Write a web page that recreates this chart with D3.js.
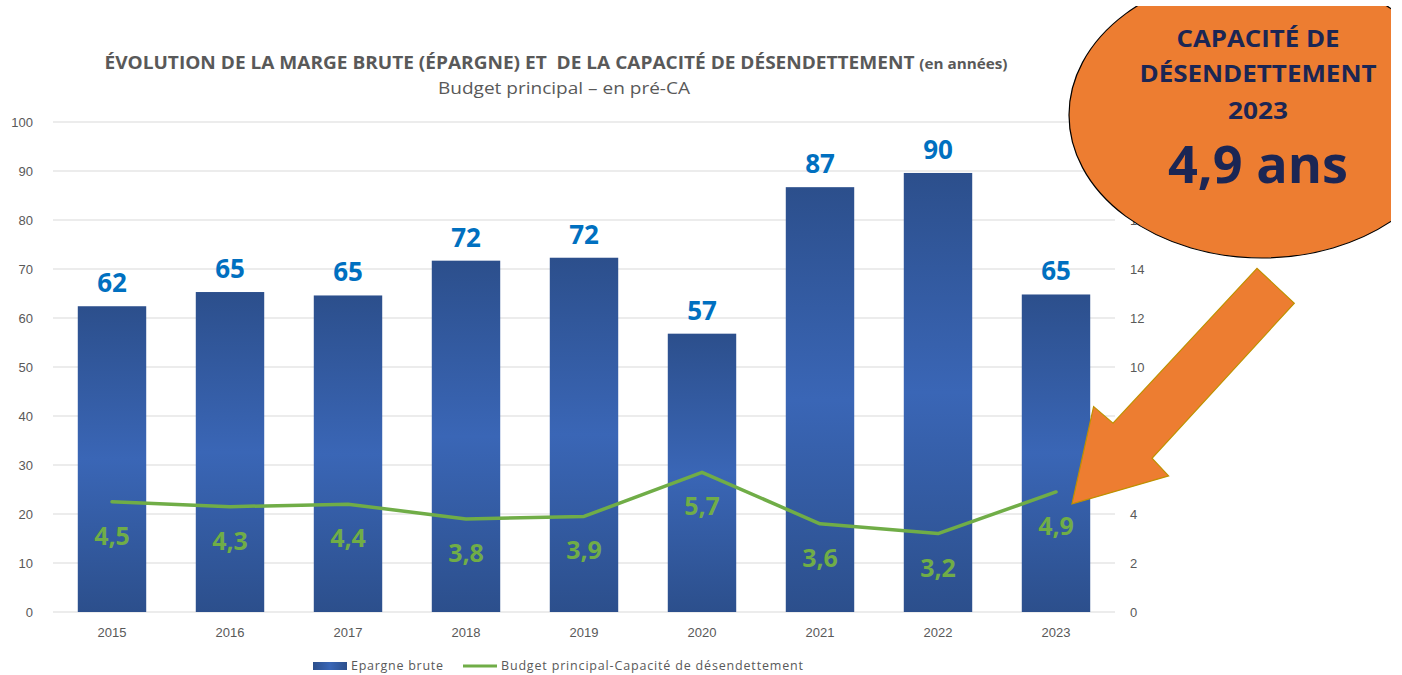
<!DOCTYPE html>
<html>
<head>
<meta charset="utf-8">
<script src="https://cdn.jsdelivr.net/npm/d3@7"></script>
<style>
    html, body { margin: 0; padding: 0; background: #fff; }
    svg { display: block; font-family: "Open Sans", Lato, sans-serif; }
</style>
</head>
<body>
<div id="chart"></div>
<script>
const years = ["2015", "2016", "2017", "2018", "2019", "2020", "2021", "2022", "2023"];
const epargneBrute = [62.4, 65.3, 64.6, 71.7, 72.3, 56.8, 86.7, 89.6, 64.8];
const capacite = [4.5, 4.3, 4.4, 3.8, 3.9, 5.7, 3.6, 3.2, 4.9];
const leftTicks = [0, 10, 20, 30, 40, 50, 60, 70, 80, 90, 100];
const rightTicks = [0, 2, 4, 6, 8, 10, 12, 14, 16, 18, 20];

const width = 1402;
const height = 675;

const fr = d3.formatLocale({ decimal: ",", thousands: " ", grouping: [3], currency: ["", " €"] });
const fmt1 = fr.format(".1f");
const fmt0 = fr.format(".0f");

const svg = d3.select("#chart")
    .append("svg")
    .attr("width", width)
    .attr("height", height);

const defs = svg.append("defs");
const grad = defs.append("linearGradient")
    .attr("id", "barGrad")
    .attr("x1", 0).attr("y1", 0).attr("x2", 0).attr("y2", 1);
grad.append("stop").attr("offset", "0%").attr("stop-color", "#2c4f8c");
grad.append("stop").attr("offset", "50%").attr("stop-color", "#3a66b6");
grad.append("stop").attr("offset", "100%").attr("stop-color", "#2c4f8c");

const legGrad = defs.append("linearGradient")
    .attr("id", "legGrad")
    .attr("x1", 0).attr("y1", 0).attr("x2", 1).attr("y2", 0);
legGrad.append("stop").attr("offset", "0%").attr("stop-color", "#2c4f8c");
legGrad.append("stop").attr("offset", "50%").attr("stop-color", "#3a66b6");
legGrad.append("stop").attr("offset", "100%").attr("stop-color", "#2c4f8c");

defs.append("clipPath").attr("id", "slideClip")
    .append("rect").attr("x", 0).attr("y", 6).attr("width", 1391).attr("height", height);

const x = d3.scaleBand()
    .domain(years)
    .range([53, 1115])
    .paddingInner(0.42)
    .paddingOuter(0.21);

const yL = d3.scaleLinear().domain([0, 100]).range([612, 122]);
const yR = d3.scaleLinear().domain([0, 20]).range([612, 122]);

// gridlines
svg.append("g")
    .selectAll("line")
    .data(leftTicks)
    .join("line")
    .attr("x1", 53)
    .attr("x2", 1115)
    .attr("y1", d => yL(d))
    .attr("y2", d => yL(d))
    .attr("stroke", "#d9d9d9")
    .attr("stroke-width", 1);

// left axis
const leftAxis = svg.append("g")
    .attr("transform", "translate(33,0)")
    .call(d3.axisLeft(yL).tickValues(leftTicks).tickSize(0).tickPadding(0));
leftAxis.select(".domain").remove();
leftAxis.selectAll("text")
    .attr("fill", "#595959")
    .style("font-size", "13px");

// right axis
const rightAxis = svg.append("g")
    .attr("transform", "translate(1130,0)")
    .call(d3.axisRight(yR).tickValues(rightTicks).tickSize(0).tickPadding(0));
rightAxis.select(".domain").remove();
rightAxis.selectAll("text")
    .attr("fill", "#595959")
    .style("font-size", "13px");

// x axis
const xAxis = svg.append("g")
    .attr("transform", "translate(0,625)")
    .call(d3.axisBottom(x).tickSize(0).tickPadding(0));
xAxis.select(".domain").remove();
xAxis.selectAll("text")
    .attr("fill", "#595959")
    .attr("dy", "0.9em")
    .style("font-size", "13px");

// bars
svg.append("g")
    .selectAll("rect")
    .data(years)
    .join("rect")
    .attr("x", d => x(d))
    .attr("width", x.bandwidth())
    .attr("y", (d, i) => yL(epargneBrute[i]))
    .attr("height", (d, i) => yL(0) - yL(epargneBrute[i]))
    .attr("fill", "url(#barGrad)");

// bar labels
svg.append("g")
    .selectAll("text")
    .data(years)
    .join("text")
    .attr("x", d => x(d) + x.bandwidth() / 2)
    .attr("y", (d, i) => yL(epargneBrute[i]) - 14)
    .attr("text-anchor", "middle")
    .attr("fill", "#0070c0")
    .style("font-size", "26px")
    .style("font-weight", "bold")
    .text((d, i) => fmt0(epargneBrute[i]));

// line
const line = d3.line()
    .x((d, i) => x(years[i]) + x.bandwidth() / 2)
    .y(d => yR(d));

svg.append("path")
    .datum(capacite)
    .attr("d", line)
    .attr("fill", "none")
    .attr("stroke", "#70ad47")
    .attr("stroke-width", 3.5)
    .attr("stroke-linejoin", "round")
    .attr("stroke-linecap", "round");

svg.append("g")
    .selectAll("text")
    .data(capacite)
    .join("text")
    .attr("x", (d, i) => x(years[i]) + x.bandwidth() / 2)
    .attr("y", d => yR(d) + 43)
    .attr("text-anchor", "middle")
    .attr("fill", "#70ad47")
    .style("font-size", "25px")
    .style("font-weight", "bold")
    .text(d => fmt1(d));

// title
const title = svg.append("text")
    .attr("x", 556)
    .attr("y", 69)
    .attr("text-anchor", "middle")
    .attr("fill", "#595959")
    .attr("textLength", 903)
    .attr("lengthAdjust", "spacingAndGlyphs")
    .style("font-weight", "bold");
title.append("tspan")
    .style("font-size", "17.5px")
    .text("ÉVOLUTION DE LA MARGE BRUTE (ÉPARGNE) ET\u00a0 DE LA CAPACITÉ DE DÉSENDETTEMENT ");
title.append("tspan")
    .style("font-size", "14px")
    .text("(en années)");

svg.append("text")
    .attr("x", 564)
    .attr("y", 94)
    .attr("text-anchor", "middle")
    .attr("fill", "#595959")
    .attr("textLength", 252)
    .attr("lengthAdjust", "spacingAndGlyphs")
    .style("font-size", "16px")
    .text("Budget principal – en pré-CA");

// legend
const legend = svg.append("g").attr("transform", "translate(313,666)");
legend.append("rect")
    .attr("x", 0).attr("y", -4).attr("width", 34).attr("height", 8)
    .attr("fill", "url(#legGrad)");
legend.append("text")
    .attr("x", 38).attr("y", 0).attr("dy", "0.35em")
    .attr("fill", "#595959")
    .attr("textLength", 92)
    .attr("lengthAdjust", "spacing")
    .style("font-size", "12.5px")
    .text("Epargne brute");
legend.append("line")
    .attr("x1", 150).attr("x2", 184).attr("y1", 0).attr("y2", 0)
    .attr("stroke", "#70ad47").attr("stroke-width", 3);
legend.append("text")
    .attr("x", 188).attr("y", 0).attr("dy", "0.35em")
    .attr("fill", "#595959")
    .attr("textLength", 302)
    .attr("lengthAdjust", "spacing")
    .style("font-size", "12.5px")
    .text("Budget principal-Capacité de désendettement");

// callout ellipse
const callout = svg.append("g").attr("clip-path", "url(#slideClip)");
callout.append("ellipse")
    .attr("cx", 1262).attr("cy", 115)
    .attr("rx", 193).attr("ry", 143)
    .attr("fill", "#ed7d31")
    .attr("stroke", "#000")
    .attr("stroke-width", 1.2);

const navy = "#1b2654";
const calloutLines = [
    { text: "CAPACITÉ DE", y: 47, size: 23.5, len: 163 },
    { text: "DÉSENDETTEMENT", y: 82, size: 23.5, len: 237 },
    { text: "2023", y: 119, size: 23.5, len: 60 },
    { text: "4,9 ans", y: 183, size: 52, len: 180 }
];
callout.selectAll("text.callout")
    .data(calloutLines)
    .join("text")
    .attr("class", "callout")
    .attr("x", 1258)
    .attr("y", d => d.y)
    .attr("text-anchor", "middle")
    .attr("fill", navy)
    .attr("textLength", d => d.len)
    .attr("lengthAdjust", "spacingAndGlyphs")
    .style("font-weight", "bold")
    .style("font-size", d => d.size + "px")
    .text(d => d.text);

// arrow pointing to 2023 value
const tipX = x("2023") + x.bandwidth() / 2 + 16;
const tipY = yR(capacite[8]) + 12;
const arrowPts = [
    [0, 0], [21.6, -97.3], [41, -80.7], [185, -235.7], [222.3, -200.7],
    [80, -45.7], [96.6, -28]
].map(([dx, dy]) => [tipX + dx, tipY + dy]);

svg.append("path")
    .attr("d", d3.line()(arrowPts) + "Z")
    .attr("fill", "#ed7d31")
    .attr("stroke", "#bf9000")
    .attr("stroke-width", 1.2);
</script>
</body>
</html>
